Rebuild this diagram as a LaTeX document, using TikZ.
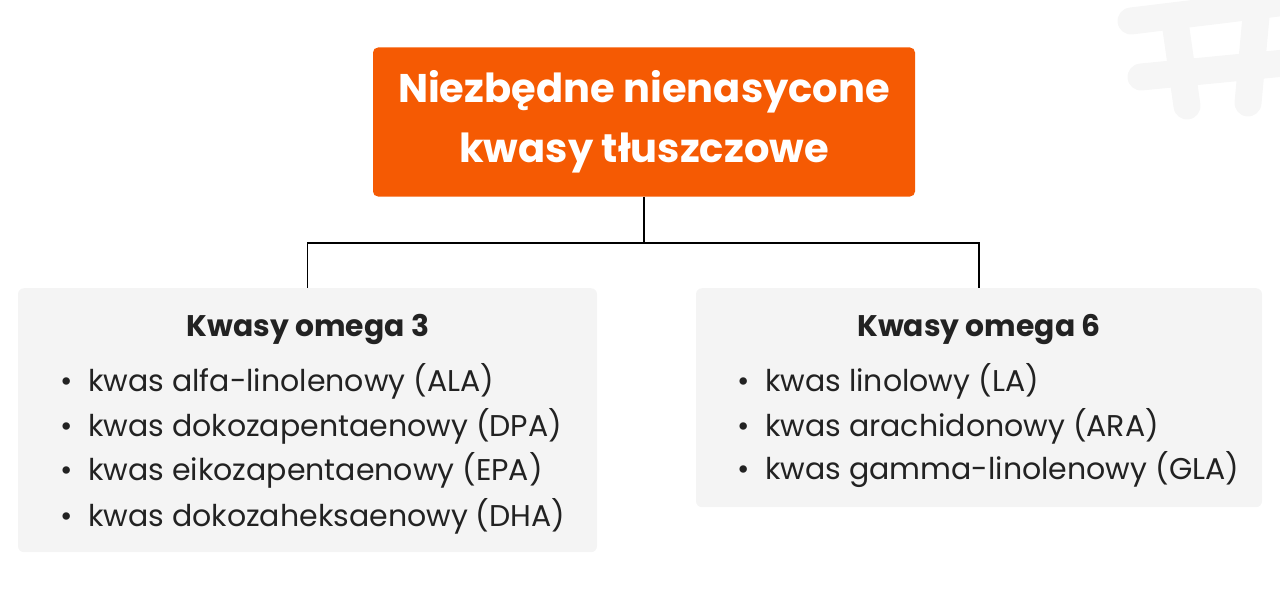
\documentclass[tikz,border=0pt]{standalone}
\usepackage{fontspec}
\setmainfont{Poppins}
\usetikzlibrary{positioning}
\definecolor{brandorange}{RGB}{245,90,3}
\definecolor{boxgray}{RGB}{244,244,244}
\definecolor{textdark}{RGB}{34,34,34}
\definecolor{hashgray}{RGB}{246,246,246}

\begin{document}
\begin{tikzpicture}[x=1pt, y=1pt]
		\tikzstyle{main}=[rectangle, rounded corners=5pt, fill=brandorange, text=white, font=\bfseries\fontsize{40}{60}\selectfont, align=center, minimum width=542pt, minimum height=149pt]
		\tikzstyle{group}=[rectangle, rounded corners=6pt, fill=boxgray, anchor=north]
		\tikzstyle{head}=[text=textdark, font=\bfseries\fontsize{29.8}{35}\selectfont]
		\tikzstyle{item}=[text=textdark, font=\fontsize{30}{36}\selectfont, anchor=west, inner sep=0pt]
		\tikzstyle{connect}=[line width=1.6pt, black]
		\tikzstyle{hashstroke}=[line width=27pt, line cap=round, hashgray]
		\useasboundingbox (0,0) rectangle (1280,-599);
		% faint hash in the corner
		\draw[hashstroke] (1131,-21) -- (1295,-1);
		\draw[hashstroke] (1141,-77) -- (1295,-62);
		\draw[hashstroke] (1175,-22) -- (1187,-106);
		\draw[hashstroke] (1258,5) -- (1248,-103);
		\node[main] (root) at (644,-122) {Niezbędne nienasycone\\kwasy tłuszczowe};
		\node[group, minimum width=579pt, minimum height=264pt] (omega3) at (307.5,-288) {};
		\node[group, minimum width=566pt, minimum height=219pt] (omega6) at (979,-288) {};
		\node[head] (head3) at (308,-329) {Kwasy omega 3};
		\node[head] (head6) at (979,-329) {Kwasy omega 6};
		\node[item] (ala) at (60,-381) {\makebox[28pt][l]{\textbullet}kwas alfa-linolenowy (ALA)};
		\node[item] (dpa) at (60,-426) {\makebox[28pt][l]{\textbullet}kwas dokozapentaenowy (DPA)};
		\node[item] (epa) at (60,-470) {\makebox[28pt][l]{\textbullet}kwas eikozapentaenowy (EPA)};
		\node[item] (dha) at (60,-516) {\makebox[28pt][l]{\textbullet}kwas dokozaheksaenowy (DHA)};
		\node[item] (la) at (737,-381) {\makebox[28pt][l]{\textbullet}kwas linolowy (LA)};
		\node[item] (ara) at (737,-426) {\makebox[28pt][l]{\textbullet}kwas arachidonowy (ARA)};
		\node[item] (gla) at (737,-470) {\makebox[28pt][l]{\textbullet}kwas gamma-linolenowy (GLA)};
		\coordinate (split) at (644,-243);
		\draw[connect] (root.south) -- (split);
		\draw[connect] (split) -| (omega3.north);
		\draw[connect] (split) -| (omega6.north);
	\end{tikzpicture}
\end{document}
